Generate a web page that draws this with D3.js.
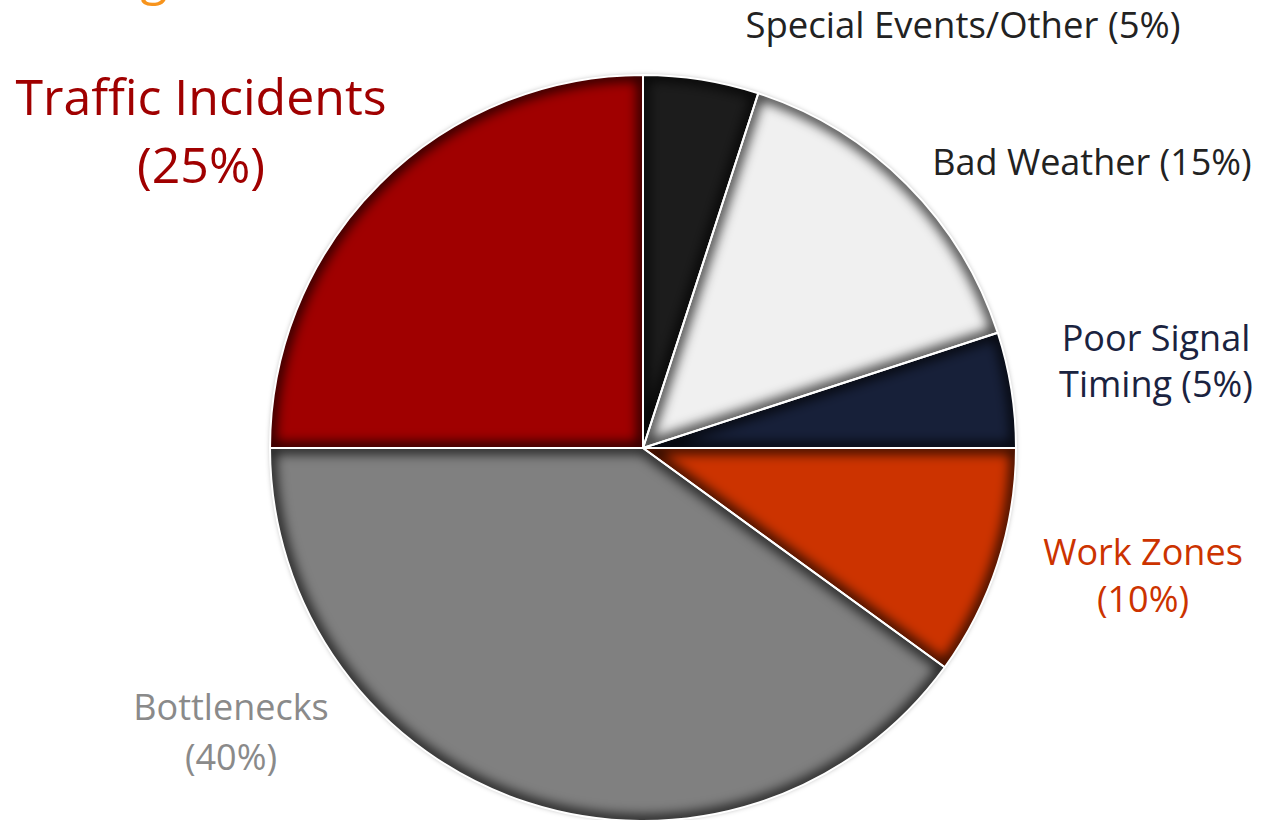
<!DOCTYPE html>
<html>
<head>
<meta charset="utf-8">
<script src="https://cdn.jsdelivr.net/npm/d3@7"></script>
<style>
  html, body { margin: 0; padding: 0; background: #fff; overflow: hidden; }
  svg { display: block; }
  text { font-family: "Segoe UI", "Open Sans", "Noto Sans", sans-serif; }
</style>
</head>
<body>
<svg id="chart" width="1263" height="820"></svg>
<script>
// Data (clockwise from 12 o'clock)
const categories = ["Special Events/Other", "Bad Weather", "Poor Signal Timing", "Work Zones", "Bottlenecks", "Traffic Incidents"];
const values = [5, 15, 5, 10, 40, 25];
const sliceColors = ["#1c1c1c", "#f0f0f0", "#172039", "#cc3300", "#808080", "#a00000"];
const labelLines = [
  ["Special Events/Other (5%)"],
  ["Bad Weather (15%)"],
  ["Poor Signal", "Timing (5%)"],
  ["Work Zones", "(10%)"],
  ["Bottlenecks", "(40%)"],
  ["Traffic Incidents", "(25%)"]
];
const labelColors = ["#222222", "#222222", "#1a2340", "#cc3300", "#8a8a8a", "#a00000"];
const labelPos = [[963, 38], [1092, 175], [1156, 351], [1143, 565], [231, 720], [201, 115]];
const labelSizes = [36.5, 36, 36, 36, 36, 50];
const lineHeights = [0, 0, 46, 47, 50, 68];
const titleText = "Congestion";

const svg = d3.select("#chart");
const cx = 643, cy = 448, R = 373;

const defs = svg.append("defs");
const bf = defs.append("filter").attr("id", "blur")
  .attr("filterUnits", "userSpaceOnUse")
  .attr("x", -450).attr("y", -450).attr("width", 900).attr("height", 900);
bf.append("feGaussianBlur").attr("stdDeviation", 6);

const df = defs.append("filter").attr("id", "drop")
  .attr("filterUnits", "userSpaceOnUse")
  .attr("x", -450).attr("y", -450).attr("width", 900).attr("height", 900);
df.append("feGaussianBlur").attr("in", "SourceAlpha").attr("stdDeviation", 2.5).attr("result", "b");
df.append("feFlood").attr("flood-color", "#000").attr("flood-opacity", 0.3).attr("result", "c");
df.append("feComposite").attr("in", "c").attr("in2", "b").attr("operator", "in");

// title, cut off at the top edge as in the reference
svg.append("text").attr("x", 48).attr("y", -6)
  .attr("font-size", 50).attr("fill", "#f7941d").text(titleText);

const pie = d3.pie().sort(null).value(d => d)(values);
const arc = d3.arc().innerRadius(0).outerRadius(R);
const g = svg.append("g").attr("transform", `translate(${cx},${cy})`);

pie.forEach((d, i) => {
  defs.append("clipPath").attr("id", "clip" + i).append("path").attr("d", arc(d));
});

// soft outer shadow
g.append("circle").attr("r", R).attr("fill", "#000").attr("filter", "url(#drop)");

const slices = g.selectAll("g.slice").data(pie).join("g")
  .attr("class", "slice")
  .attr("clip-path", (d, i) => `url(#clip${i})`);

slices.append("path")
  .attr("d", arc)
  .attr("fill", (d, i) => sliceColors[i]);

// inner shadow: blurred dark stroke clipped to the slice
slices.append("path")
  .attr("d", arc)
  .attr("fill", "none")
  .attr("stroke", "#000")
  .attr("stroke-opacity", 0.75)
  .attr("stroke-width", 12)
  .attr("filter", "url(#blur)");

g.selectAll("path.edge").data(pie).join("path")
  .attr("class", "edge")
  .attr("d", arc)
  .attr("fill", "none")
  .attr("stroke", "#fff")
  .attr("stroke-width", 2)
  .attr("stroke-linejoin", "round");

// labels
labelLines.forEach((lines, i) => {
  const t = svg.append("text")
    .attr("text-anchor", "middle")
    .attr("fill", labelColors[i])
    .attr("font-size", labelSizes[i]);
  lines.forEach((ln, j) => {
    t.append("tspan").attr("x", labelPos[i][0]).attr("y", labelPos[i][1] + j * lineHeights[i]).text(ln);
  });
});
</script>
</body>
</html>
